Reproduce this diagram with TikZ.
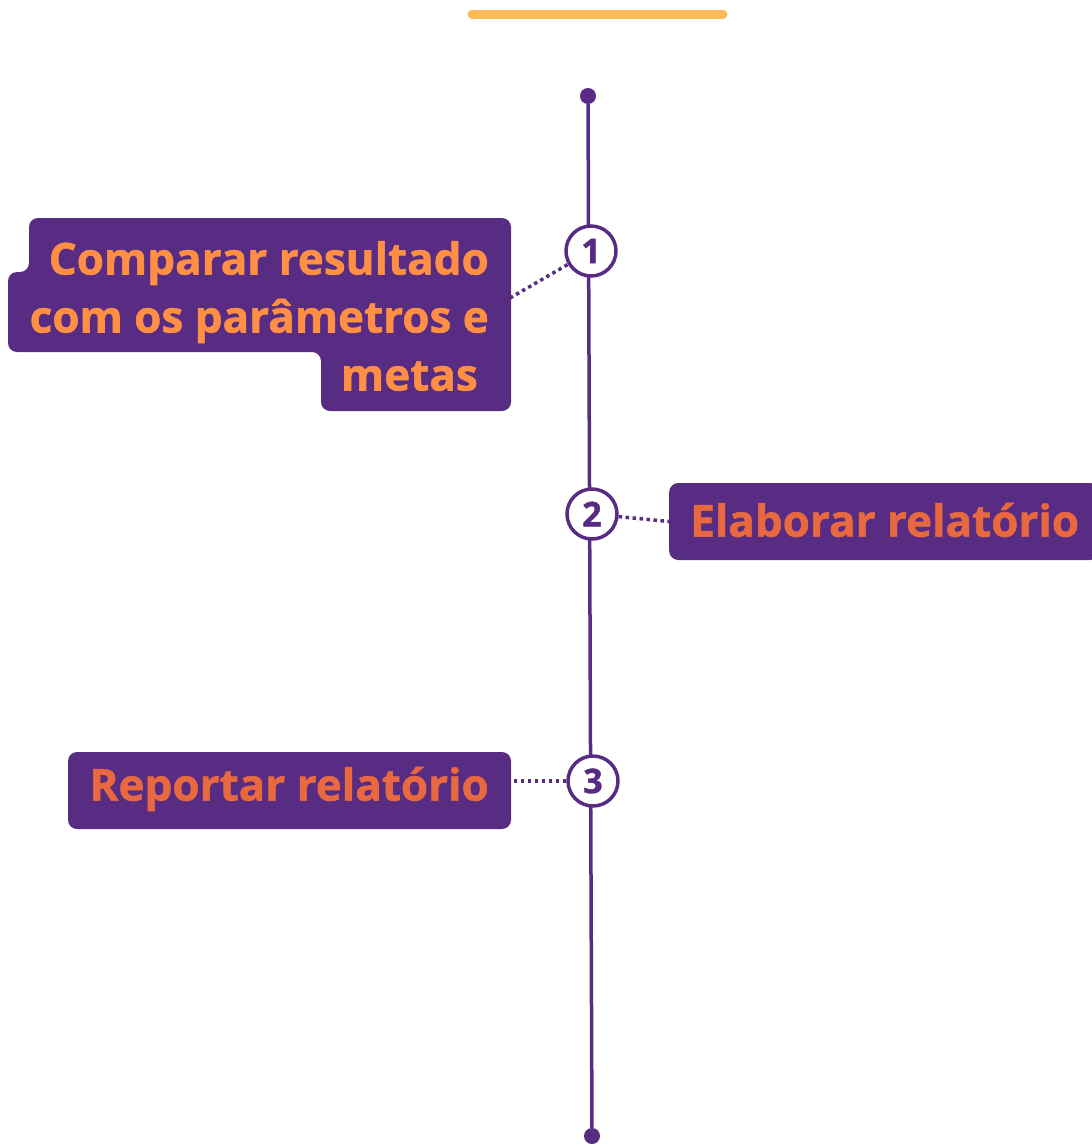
\documentclass[tikz,border=0pt]{standalone}
\usepackage{fontspec}
\setmainfont{Open Sans}[BoldFeatures={FakeBold=1.2}]
\definecolor{tlpurple}{HTML}{582C83}
\definecolor{tlbar}{HTML}{FFB957}
\definecolor{tlorangeA}{HTML}{FF8F45}
\definecolor{tlorangeB}{HTML}{E8693F}
\tikzset{
  tlline/.style={draw=tlpurple, line width=3.5pt},
  tldot/.style={circle, fill=tlpurple, inner sep=0pt, minimum size=16pt},
  tlnum/.style={circle, draw=tlpurple, line width=3.5pt, fill=white, inner sep=0pt,
    minimum size=50pt, text=tlpurple, font=\bfseries\fontsize{34}{34}\selectfont},
  tlbox/.style={fill=tlpurple, rounded corners=9pt, inner sep=0pt},
  tllabel/.style={inner sep=0pt, font=\bfseries\fontsize{44}{58}\selectfont},
  tldots/.style={draw=tlpurple, line width=3.5pt, dash pattern=on 3.5pt off 3.5pt}
}
\begin{document}
\begin{tikzpicture}[x=1pt,y=-1pt]
\useasboundingbox (0,0) rectangle (1092,1144);
% top bar
\draw[tlbar, line width=9pt, line cap=round] (472,14) -- (723,14);
% end dots and timeline
\node[tldot] (top) at (588,96) {};
\node[tldot] (bot) at (592,1136) {};
\draw[tlline] (top) -- (bot);
% step circles
\node[tlnum] (c1) at (591,251) {1};
\node[tlnum] (c2) at (592,514) {2};
\node[tlnum] (c3) at (593,781) {3};
% box 1
\fill[tlpurple, rounded corners=9pt] (270,218) -- (511,218) -- (511,411) -- (321,411) -- (321,352)
  -- (8,352) -- (8,272) -- (29,272) -- (29,218) -- cycle;
\coordinate (b1) at (510,298);
\node[tllabel, text=tlorangeA, align=right, anchor=east] (t1) at (489,316)
  {Comparar resultado\\com os parâmetros e\\metas\hspace*{11pt}};
% box 2
\node[tlbox, minimum width=430pt, minimum height=77pt, anchor=west] (b2) at (669,521.5) {};
\node[tllabel, text=tlorangeB, anchor=west] (t2) at (690,520) {Elaborar relatório};
% box 3
\node[tlbox, minimum width=443pt, minimum height=77pt] (b3) at (289.5,790.5) {};
\node[tllabel, text=tlorangeB, anchor=east] (t3) at (489,789) {Reportar relatório};
% dotted connectors
\draw[tldots] (b1) -- (c1);
\draw[tldots] (c2) -- (b2.west);
\draw[tldots] (c3.west) -- (c3.west -| b3.east);
\end{tikzpicture}
\end{document}
